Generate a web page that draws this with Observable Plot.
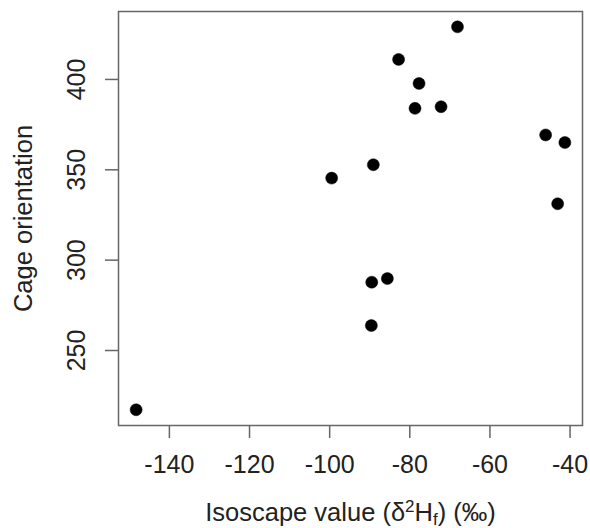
<!DOCTYPE html>
<html>
<head>
<meta charset="utf-8">
<script src="https://cdn.jsdelivr.net/npm/d3@7"></script>
<script src="https://cdn.jsdelivr.net/npm/@observablehq/plot@0.6"></script>
<style>
  html, body { margin: 0; padding: 0; background: #fff; }
  #chart svg { display: block; }
</style>
</head>
<body>
<div id="chart"></div>
<script>
// Isoscape value (δ²Hf, ‰)
const isoscape = [-148.3, -99.5, -89.1, -82.8, -77.7, -78.7, -72.2, -68.1, -46.1, -41.3, -43.1, -89.5, -85.6, -89.6];
// Cage orientation
const orientation = [217.2, 345.4, 352.8, 411.1, 397.8, 384.0, 384.9, 429.1, 369.3, 365.1, 331.2, 287.8, 289.8, 263.8];
const xTicks = [-140, -120, -100, -80, -60, -40];
const yTicks = [250, 300, 350, 400];
const xLabel = "Isoscape value (δ2Hf) (‰)";
const yLabel = "Cage orientation";

const points = isoscape.map((x, i) => ({x, y: orientation[i]}));
const font = "Liberation Sans, Arial, Helvetica, sans-serif";
const ink = "#222";
const frameCol = "#666";
const fmt = d => String(d);

const chart = Plot.plot({
  width: 590,
  height: 528,
  marginLeft: 118,
  marginRight: 8,
  marginTop: 11,
  marginBottom: 103,
  style: {fontFamily: font, fontSize: "25px", color: ink, background: "#fff"},
  x: {domain: [-152.7, -36.9]},
  y: {domain: [208.5, 437.6]},
  marks: [
    Plot.frame({stroke: frameCol, strokeWidth: 1.5}),
    Plot.axisX({ticks: xTicks, tickFormat: fmt, tickSize: 13, tickPadding: 17, label: null, stroke: frameCol, strokeWidth: 1.5, fill: ink, fontSize: 25}),
    Plot.axisY({ticks: yTicks, tickFormat: fmt, tickSize: 13, tickPadding: 21, tickRotate: -90, label: null, stroke: frameCol, strokeWidth: 1.5, fill: ink, fontSize: 25}),
    Plot.dot(points, {x: "x", y: "y", r: 6, fill: "#000", stroke: "#000", strokeWidth: 0.5}),
    Plot.text([xLabel], {frameAnchor: "bottom", dy: 77, lineAnchor: "top", fontSize: 25.5, fill: ink, className: "xlab"}),
    Plot.text([yLabel], {frameAnchor: "left", dx: -105, rotate: -90, textAnchor: "middle", lineAnchor: "top", fontSize: 25.5, fill: ink})
  ]
});
document.getElementById("chart").appendChild(chart);

// Superscript "2" and subscript "f" in the x-axis label
const t = chart.querySelector(".xlab text") || chart.querySelector("g.xlab text");
if (t) {
  t.textContent = "";
  const parts = [
    ["Isoscape value (δ", 0, null],
    ["2", -9, 17],
    ["H", 9, null],
    ["f", 4, 17],
    [") (‰)", -4, null]
  ];
  for (const [s, dy, size] of parts) {
    const ts = document.createElementNS("http://www.w3.org/2000/svg", "tspan");
    ts.textContent = s;
    if (dy) ts.setAttribute("dy", dy);
    if (size) ts.setAttribute("font-size", size);
    t.appendChild(ts);
  }
}
</script>
</body>
</html>
